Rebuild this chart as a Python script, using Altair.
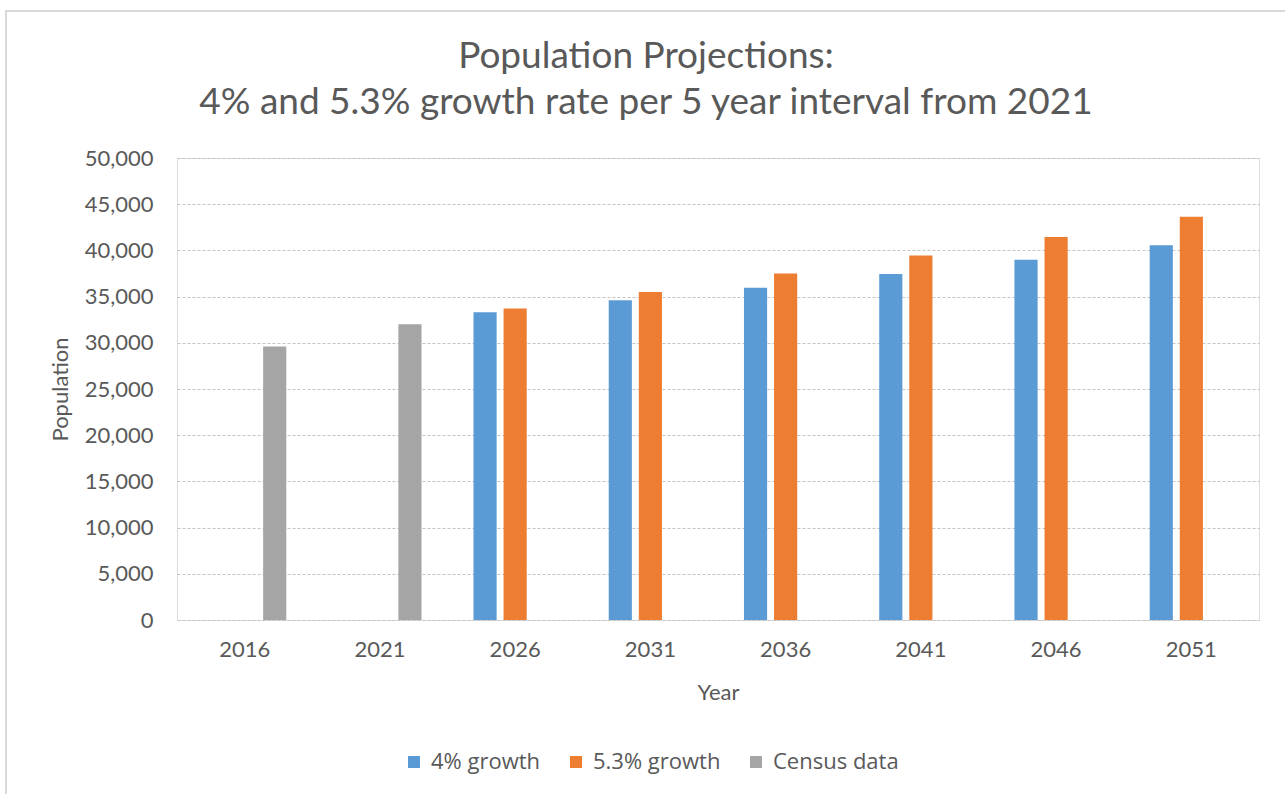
import altair as alt
import pandas as pd

# Years on the category axis
years = ["2016", "2021", "2026", "2031", "2036", "2041", "2046", "2051"]

# Series names and their colours
series_names = ["4% growth", "5.3% growth", "Census data"]
series_colors = ["#5b9bd5", "#ed7d31", "#a5a5a5"]

# Census counts (2016, 2021) and the two projections (2026-2051)
census_years = ["2016", "2021"]
census_values = [29600, 32000]
proj_years = ["2026", "2031", "2036", "2041", "2046", "2051"]
growth_4 = [33300, 34600, 35950, 37450, 39000, 40550]
growth_53 = [33700, 35500, 37500, 39450, 41450, 43650]

y_ticks = list(range(0, 50001, 5000))

rows = []
for yr, v in zip(census_years, census_values):
    rows.append({"Year": yr, "Series": "Census data", "Population": v})
for yr, v in zip(proj_years, growth_4):
    rows.append({"Year": yr, "Series": "4% growth", "Population": v})
for yr, v in zip(proj_years, growth_53):
    rows.append({"Year": yr, "Series": "5.3% growth", "Population": v})
df = pd.DataFrame(rows)

TEXT = "#595959"
FONT = "Lato"

bars = alt.Chart(df).mark_bar().encode(
    x=alt.X(
        "Year:N",
        sort=years,
        scale=alt.Scale(domain=years, paddingInner=0.333, paddingOuter=0.1667),
        axis=alt.Axis(
            title="Year",
            labelAngle=0,
            labelFontSize=22,
            labelColor=TEXT,
            labelFont=FONT,
            labelPadding=19,
            domain=False,
            ticks=False,
            titleFontSize=22,
            titleFont=FONT,
            titleColor=TEXT,
            titleFontWeight="normal",
            titleY=72,
            titleBaseline="middle",
        ),
    ),
    xOffset=alt.XOffset(
        "Series:N",
        scale=alt.Scale(domain=series_names, paddingInner=0.23, paddingOuter=0.115),
    ),
    y=alt.Y(
        "Population:Q",
        scale=alt.Scale(domain=[0, 50000], nice=False),
        axis=alt.Axis(
            title="Population",
            values=y_ticks,
            format=",.0f",
            labelFontSize=22,
            labelColor=TEXT,
            labelFont=FONT,
            labelPadding=24,
            domain=False,
            ticks=False,
            grid=True,
            gridColor="#c4c4c4",
            gridDash=[3, 2],
            gridWidth=1,
            titleFontSize=22,
            titleFont=FONT,
            titleColor=TEXT,
            titleFontWeight="normal",
            titleX=-117,
            titleY=231,
            titleAngle=270,
            titleAlign="center",
            titleBaseline="middle",
        ),
    ),
    color=alt.Color(
        "Series:N",
        scale=alt.Scale(domain=series_names, range=series_colors),
        legend=alt.Legend(
            title=None,
            orient="none",
            direction="horizontal",
            legendX=226,
            legendY=593,
            symbolType="square",
            symbolSize=144,
            symbolStrokeWidth=0,
            labelFont="Open Sans",
            labelFontSize=22,
            labelColor=TEXT,
            labelOffset=6,
            columnPadding=24,
        ),
    ),
)

# Chart-area border along the top and left edges
frame_data = alt.Data(values=[{"k": 0}])
top_edge = alt.Chart(frame_data).mark_rule(color="#d9d9d9", strokeWidth=2).encode(
    x=alt.value(-172), x2=alt.value(1130), y=alt.value(-147)
)
left_edge = alt.Chart(frame_data).mark_rule(color="#d9d9d9", strokeWidth=2).encode(
    x=alt.value(-171), y=alt.value(-147), y2=alt.value(660)
)

chart = (
    alt.layer(top_edge, left_edge, bars)
    .properties(
        width=1082,
        height=462,
        autosize=alt.AutoSizeParams(type="none"),
        padding={"left": 177, "top": 158, "right": 26, "bottom": 174},
        title=alt.TitleParams(
            text=["Population Projections:", "4% and 5.3% growth rate per 5 year interval from 2021"],
            font=FONT,
            fontSize=37,
            fontWeight="normal",
            color=TEXT,
            lineHeight=46,
            anchor="middle",
            frame="group",
            baseline="alphabetic",
            dx=-72,
            dy=175,
            offset=34,
        ),
    )
    .configure_view(stroke=None)
    .configure(background="white")
)

chart.save("out.html", embed_options={"renderer": "svg", "actions": False})
